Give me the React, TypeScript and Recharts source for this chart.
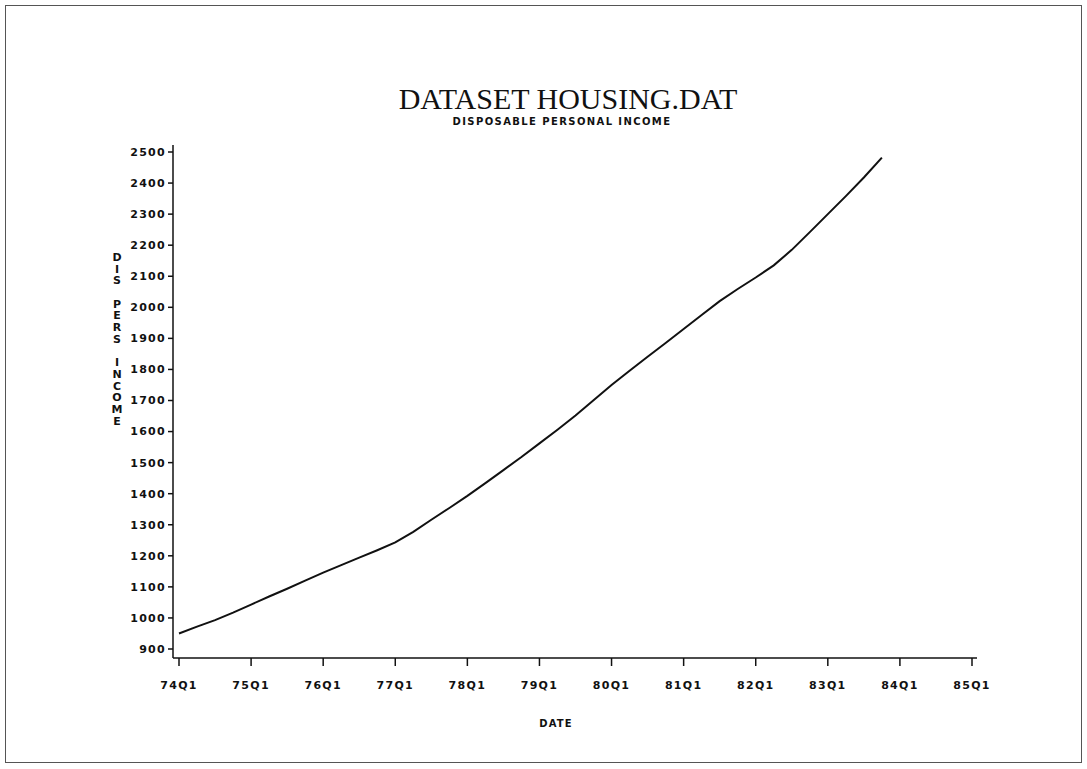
import React from 'react';
import { LineChart, Line, XAxis, YAxis } from 'recharts';

// Quarterly disposable personal income, 74Q1 .. 83Q4
const income = [
  950, 972, 993, 1017, 1043, 1069, 1094, 1120, 1146, 1170,
  1194, 1218, 1243, 1277, 1316, 1354, 1393, 1434, 1476, 1518,
  1562, 1606, 1652, 1701, 1750, 1796, 1841, 1885, 1930, 1975,
  2020, 2059, 2096, 2135, 2185, 2242, 2300, 2358, 2418, 2482,
];

const yearLabels = ['74Q1', '75Q1', '76Q1', '77Q1', '78Q1', '79Q1', '80Q1', '81Q1', '82Q1', '83Q1', '84Q1', '85Q1'];
const yTicks = [900, 1000, 1100, 1200, 1300, 1400, 1500, 1600, 1700, 1800, 1900, 2000, 2100, 2200, 2300, 2400, 2500];
const yLabel = 'DIS PERS INCOME';

const tickFont = { fontFamily: 'DejaVu Sans', fontWeight: 700, fontSize: 11, letterSpacing: 1.3, fill: '#111' };

export default function App() {
  const data = income.map((v, i) => ({ q: i, income: v }));
  const xTicks = yearLabels.map((_, i) => i * 4);

  return (
    <div style={{ position: 'absolute', left: 0, top: 0, width: 1087, height: 769, background: '#fff' }}>
      {/* frame */}
      <div style={{ position: 'absolute', left: 5, top: 5, width: 1075, height: 756, border: '1px solid #555' }} />

      <div style={{ position: 'absolute', left: 0, width: 1136, top: 84, textAlign: 'center', fontFamily: 'Liberation Serif', fontSize: 30, color: '#111', lineHeight: '30px' }}>
        DATASET HOUSING.DAT
      </div>
      <div style={{ position: 'absolute', left: 0, width: 1124, top: 116, textAlign: 'center', fontFamily: 'DejaVu Sans', fontWeight: 700, fontSize: 10, letterSpacing: 1.4, color: '#111', lineHeight: '12px' }}>
        DISPOSABLE PERSONAL INCOME
      </div>

      {/* stacked y-axis title */}
      <div style={{ position: 'absolute', left: 110, top: 252, width: 14, fontFamily: 'DejaVu Sans', fontWeight: 700, fontSize: 11, lineHeight: '11.7px', textAlign: 'center', color: '#111' }}>
        {yLabel.split('').map((c, i) => (
          <div key={i} style={{ height: 11.7 }}>{c === ' ' ? '\u00a0' : c}</div>
        ))}
      </div>

      <div style={{ position: 'absolute', left: 0, width: 1112, top: 718, textAlign: 'center', fontFamily: 'DejaVu Sans', fontWeight: 700, fontSize: 10, letterSpacing: 1.2, color: '#111' }}>
        DATE
      </div>

      <LineChart width={1087} height={769} data={data} margin={{ top: 145, right: 110, bottom: 71, left: 113 }}>
        <XAxis
          dataKey="q"
          type="number"
          domain={[0, 44]}
          ticks={xTicks}
          interval={0}
          padding={{ left: 6, right: 5 }}
          tickFormatter={(v: number) => yearLabels[v / 4]}
          height={40}
          tickSize={8}
          tickMargin={15}
          stroke="#111"
          strokeWidth={1.5}
          tick={tickFont}
        />
        <YAxis
          type="number"
          domain={[900, 2500]}
          ticks={yTicks}
          interval={0}
          padding={{ top: 7, bottom: 9 }}
          width={60}
          tickSize={5}
          tickMargin={2}
          stroke="#111"
          strokeWidth={1.5}
          tick={tickFont}
        />
        <Line
          type="linear"
          dataKey="income"
          stroke="#111"
          strokeWidth={2}
          dot={false}
          isAnimationActive={false}
        />
      </LineChart>
    </div>
  );
}
